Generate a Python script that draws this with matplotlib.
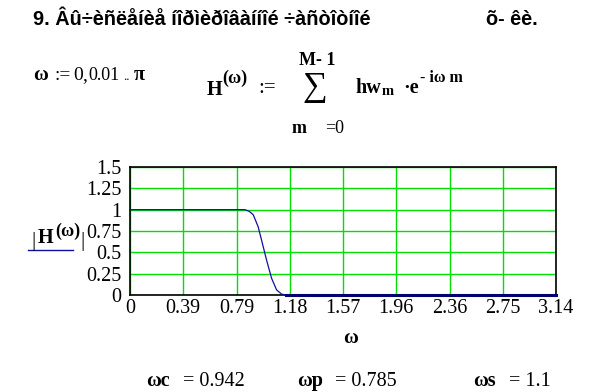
import numpy as np
import matplotlib
matplotlib.use("Agg")
import matplotlib.pyplot as plt

# magnitude response
omega_pts = [0.0, 0.40, 0.80, 0.847, 0.88, 0.909, 0.945, 0.970, 1.007, 1.044, 1.081, 1.118, 1.15, 2.0, 3.14159]
h_mag = [1.0, 1.0, 1.0, 1.0, 0.98, 0.94, 0.80, 0.645, 0.41, 0.196, 0.06, 0.01, 0.0, 0.0, 0.0]

x_ticks = [0, 0.39, 0.79, 1.18, 1.57, 1.96, 2.36, 2.75, 3.14]
y_ticks = [0, 0.25, 0.5, 0.75, 1, 1.25, 1.5]
y_tick_labels = ["0", "0.25", "0.5", "0.75", "1", "1.25", "1.5"]

title_left = "9. Âû÷èñëåíèå íîðìèðîâàííîé ÷àñòîòíîé"
title_right = "õ- êè."
result_names = ["ωc", "ωp", "ωs"]
result_values = ["0.942", "0.785", "1.1"]

W, H = 604, 392
SERIF = "Liberation Serif"
SANS = "Liberation Sans"

fig = plt.figure(figsize=(W / 100, H / 100), dpi=100)


def t(x, y, s, size=14.5, bold=False, family=SERIF, ha="left", **kw):
    # x, y in pixels from top-left, y is the text baseline
    fig.text(x / W, 1 - y / H, s, fontsize=size, family=family,
             fontweight="bold" if bold else "normal", ha=ha, va="baseline", **kw)


# header
t(33, 25, title_left, size=14.3, bold=True, family=SANS)
t(486, 25, title_right, size=14.3, bold=True, family=SANS)

# omega range definition
t(33, 80, "ω", bold=True)
t(54, 80, ":=", size=14)
t(73, 80, "0", size=14)
t(82, 80, ",", size=14)
t(88, 80, "0.01", size=13)
t(123, 80, "..", size=9)
t(134, 80, "π", bold=True)

# H(w) definition
t(207, 95, "H", bold=True)
t(222, 83, "(ω)", size=13, bold=True)
t(258, 93, ":=", size=15)
t(315, 96, "∑", size=25, ha="center")
t(317, 65, "M- 1", size=13, bold=True, ha="center")
t(292, 133, "m", size=13, bold=True)
t(325, 133, "=0", size=13)
t(355, 93, "hw", bold=True)
t(382, 95, "m", size=10.5, bold=True)
t(403, 93, "·e", bold=True)
t(420, 82, "- iω m", size=11.5, bold=True)

# plot area
ax = fig.add_axes([130 / W, 1 - 295 / H, 426 / W, 128 / H])
w = np.array(omega_pts)
m = np.array(h_mag)
ax.plot(w, m, color="#1010a0", lw=0.9, clip_on=False, zorder=3)
stop = m == 0
ax.plot(w[stop], m[stop], color="#000070", lw=2.2, clip_on=False, zorder=4)

ax.set_xlim(0, 3.14159)
ax.set_ylim(0, 1.5)
ax.set_xticks(x_ticks)
ax.set_xticklabels([f"{v:g}" for v in x_ticks])
ax.set_yticks(y_ticks)
ax.set_yticklabels(y_tick_labels)
ax.grid(True, color="#00e000", lw=1)
ax.tick_params(length=0, labelsize=14.5)
ax.tick_params(axis="x", pad=3)
ax.tick_params(axis="y", pad=6)
for lab in ax.get_xticklabels() + ax.get_yticklabels():
    lab.set_family(SERIF)
for sp in ax.spines.values():
    sp.set_color("black")
    sp.set_linewidth(1.2)

# y label with legend line
t(31, 246, "|", size=15)
t(38, 243, "H", bold=True)
t(55, 236, "(ω)", size=13, bold=True)
t(80, 246, "|", size=15)
fig.add_artist(plt.Line2D([28 / W, 73 / W], [1 - 250 / H, 1 - 250 / H],
                          color="#1010a0", lw=1))

# x label
t(351, 343, "ω", bold=True, ha="center")

# cutoff values
for name, val, x0, xe in zip(result_names, result_values, [146, 297, 473], [183, 335, 509]):
    t(x0, 386, name, bold=True)
    t(xe, 386, "= " + val)

fig.savefig("out.png", dpi=100)
